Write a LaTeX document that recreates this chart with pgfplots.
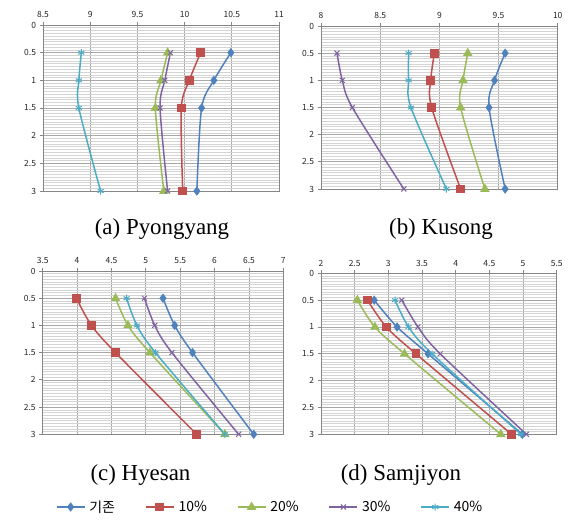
\documentclass[border=0pt]{standalone}
\usepackage{fontspec}
\setmainfont{Liberation Serif}
\newfontfamily\kr{Noto Sans CJK KR}
\usepackage{pgfplots}
\pgfplotsset{compat=1.18}
\definecolor{c0}{HTML}{4F81BD}
\definecolor{c1}{HTML}{C0504D}
\definecolor{c2}{HTML}{9BBB59}
\definecolor{c3}{HTML}{8064A2}
\definecolor{c4}{HTML}{4BACC6}
\definecolor{gmaj}{HTML}{A8A8A8}
\definecolor{gmin}{HTML}{D4D4D4}
\definecolor{axl}{HTML}{868686}
\pgfplotsset{
  s0/.style={c0, line width=1.5bp, smooth, tension=0.5, mark=diamond*, mark size=3.5bp, mark options={solid, fill=c0}},
  s1/.style={c1, line width=1.5bp, smooth, tension=0.5, mark=square*, mark size=3.6bp, mark options={solid, fill=c1}},
  s2/.style={c2, line width=1.5bp, smooth, tension=0.5, mark=triangle*, mark size=4bp, mark options={solid, fill=c2}},
  s3/.style={c3, line width=1.5bp, smooth, tension=0.5, mark=x, mark size=3.5bp, mark options={solid, line width=1bp}},
  s4/.style={c4, line width=1.5bp, smooth, tension=0.5, mark=asterisk, mark size=3.5bp, mark options={solid, line width=1bp}},
  panel/.style={
    scale only axis,
    y dir=reverse, ymin=0, ymax=3, ytick={0,0.5,1,1.5,2,2.5,3},
    minor y tick num=9,
    xmajorgrids, ymajorgrids, yminorgrids,
    major grid style={draw=gmaj, line width=0.7bp},
    minor grid style={draw=gmin, line width=0.6bp},
    axis line style={draw=axl, line width=0.8bp},
    tick align=outside, major tick length=3.5bp, minor tick length=0pt,
    tick style={draw=axl, line width=0.8bp},
    xtick pos=upper, xticklabel pos=upper,
    ytick pos=left, yticklabel pos=left,
    ticklabel style={font=\kr\fontsize{8.5}{10}\selectfont, text=black!85},
    /pgf/number format/assume math mode=true,
    /pgf/number format/.cd, fixed, precision=1,
  },
}
\begin{document}
\begin{tikzpicture}
\path[use as bounding box] (0,0) rectangle (569bp,-520bp);

% (a) Pyongyang
\begin{axis}[panel, at={(161bp,-108bp)}, anchor=center, width=236bp, height=166bp,
  xmin=8.5, xmax=11, xtick={8.5,9,...,11}]
\addplot[s0] coordinates {(10.49,0.5) (10.31,1) (10.18,1.5) (10.13,3)};
\addplot[s1] coordinates {(10.17,0.5) (10.05,1) (9.965,1.5) (9.98,3)};
\addplot[s2] coordinates {(9.82,0.5) (9.75,1) (9.69,1.5) (9.78,3)};
\addplot[s3] coordinates {(9.85,0.5) (9.79,1) (9.74,1.5) (9.82,3)};
\addplot[s4] coordinates {(8.906,0.5) (8.88,1) (8.88,1.5) (9.11,3)};
\end{axis}

% (b) Kusong
\begin{axis}[panel, at={(439.35bp,-107.5bp)}, anchor=center, width=236.7bp, height=163bp,
  xmin=8, xmax=10, xtick={8,8.5,...,10}]
\addplot[s0] coordinates {(9.556,0.5) (9.466,1) (9.42,1.5) (9.556,3)};
\addplot[s1] coordinates {(8.958,0.5) (8.927,1) (8.935,1.5) (9.18,3)};
\addplot[s2] coordinates {(9.24,0.5) (9.2,1) (9.18,1.5) (9.385,3)};
\addplot[s3] coordinates {(8.135,0.5) (8.18,1) (8.265,1.5) (8.7,3)};
\addplot[s4] coordinates {(8.74,0.5) (8.74,1) (8.76,1.5) (9.06,3)};
\end{axis}

% (c) Hyesan
\begin{axis}[panel, at={(163bp,-352.65bp)}, anchor=center, width=240.6bp, height=163.3bp,
  xmin=3.5, xmax=7, xtick={3.5,4,...,7}]
\addplot[s0] coordinates {(5.25,0.5) (5.42,1) (5.68,1.5) (6.57,3)};
\addplot[s1] coordinates {(3.99,0.5) (4.21,1) (4.56,1.5) (5.74,3)};
\addplot[s2] coordinates {(4.56,0.5) (4.74,1) (5.06,1.5) (6.15,3)};
\addplot[s3] coordinates {(4.98,0.5) (5.13,1) (5.38,1.5) (6.35,3)};
\addplot[s4] coordinates {(4.72,0.5) (4.87,1) (5.14,1.5) (6.15,3)};
\end{axis}

% (d) Samjiyon
\begin{axis}[panel, at={(438.85bp,-353.8bp)}, anchor=center, width=235.7bp, height=161bp,
  xmin=2, xmax=5.5, xtick={2,2.5,...,5.5},
  legend columns=5,
  legend style={draw=none, fill=none, at={(axis description cs:-0.216,-0.4516)}, anchor=center,
    font=\kr\fontsize{14}{16}\selectfont, inner sep=0pt,
    /tikz/every even column/.append style={column sep=28bp},
    /tikz/every odd column/.append style={column sep=2bp}},
  legend image code/.code={\draw[mark repeat=2, mark phase=2, #1] plot coordinates {(0bp,0bp) (14bp,0bp) (28bp,0bp)};}]
\addplot[s0] coordinates {(2.79,0.5) (3.13,1) (3.59,1.5) (4.99,3)};
\addplot[s1] coordinates {(2.69,0.5) (2.97,1) (3.41,1.5) (4.83,3)};
\addplot[s2] coordinates {(2.54,0.5) (2.8,1) (3.24,1.5) (4.67,3)};
\addplot[s3] coordinates {(3.2,0.5) (3.44,1) (3.77,1.5) (5.05,3)};
\addplot[s4] coordinates {(3.1,0.5) (3.3,1) (3.65,1.5) (4.97,3)};
\legend{기존,10\%,20\%,30\%,40\%}
\end{axis}

\node[font=\fontsize{23}{27}\selectfont] at (162bp,-229bp) {(a) Pyongyang};
\node[font=\fontsize{23}{27}\selectfont] at (441bp,-229bp) {(b) Kusong};
\node[font=\fontsize{23}{27}\selectfont] at (140.5bp,-475bp) {(c) Hyesan};
\node[font=\fontsize{23}{27}\selectfont] at (401bp,-475bp) {(d) Samjiyon};
\end{tikzpicture}
\end{document}
